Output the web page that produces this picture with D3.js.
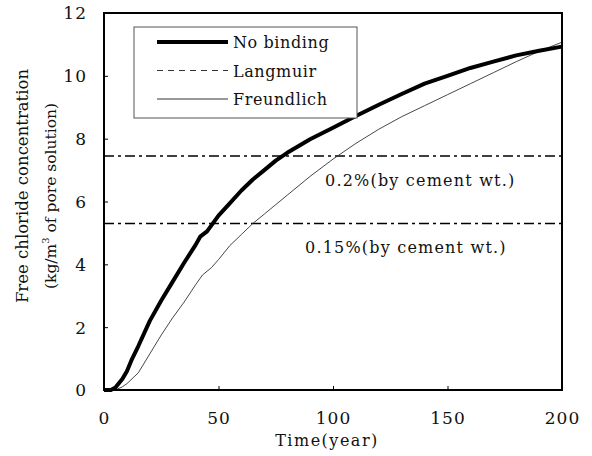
<!DOCTYPE html>
<html>
<head>
<meta charset="utf-8">
<script src="https://cdn.jsdelivr.net/npm/d3@7"></script>
<style>
  body { margin: 0; background: #fff; }
</style>
</head>
<body>
<svg id="chart" width="592" height="456"></svg>
<script>
// values
const years = [0, 3, 5, 8, 10, 12, 15, 20, 25, 30, 35, 40, 42, 45, 50, 55, 60, 65, 70, 75, 80,
               90, 100, 110, 120, 130, 140, 150, 160, 170, 180, 190, 200];
const noBinding = [0, 0, 0.08, 0.35, 0.6, 0.95, 1.4, 2.2, 2.85, 3.45, 4.05, 4.62, 4.88, 5.05, 5.55,
                   5.95, 6.35, 6.7, 7.0, 7.3, 7.55, 7.98, 8.35, 8.72, 9.08, 9.42, 9.75, 10.0,
                   10.25, 10.45, 10.65, 10.8, 10.93];
const freundlichYears = [0, 5, 8, 10, 15, 20, 25, 30, 35, 40, 43, 47, 50, 55, 60, 65, 70, 80, 90,
                         100, 110, 120, 130, 140, 150, 160, 170, 180, 190, 200];
const freundlich = [0, 0, 0.1, 0.2, 0.55, 1.15, 1.75, 2.3, 2.8, 3.35, 3.66, 3.9, 4.15, 4.6, 4.95,
                    5.3, 5.6, 6.2, 6.8, 7.35, 7.85, 8.3, 8.7, 9.05, 9.4, 9.75, 10.1, 10.45, 10.78, 11.07];
const thresholds = [7.45, 5.3];
const thresholdLabels = ["0.2%(by cement wt.)", "0.15%(by cement wt.)"];
const xTicks = [0, 50, 100, 150, 200];
const yTicks = [0, 2, 4, 6, 8, 10, 12];
const legendNames = ["No binding", "Langmuir", "Freundlich"];

const FONT = '"DejaVu Serif", serif';
const margins = { left: 104, top: 13, right: 30, bottom: 66 };
const width = 592, height = 456;

const svg = d3.select("#chart");

const scaleX = d3.scaleLinear()
    .domain([0, 200])
    .range([margins.left, width - margins.right]);

const scaleY = d3.scaleLinear()
    .domain([0, 12])
    .range([height - margins.bottom, margins.top]);

// axes, ticks point inward
const xAxis = d3.axisBottom(scaleX).tickValues(xTicks).tickSizeInner(-4).tickSizeOuter(0).tickPadding(22);
const yAxis = d3.axisLeft(scaleY).tickValues(yTicks).tickSizeInner(-4).tickSizeOuter(0).tickPadding(17);

const gx = svg.append("g")
    .attr("transform", `translate(0, ${scaleY(0)})`)
    .call(xAxis);
const gy = svg.append("g")
    .attr("transform", `translate(${scaleX(0)}, 0)`)
    .call(yAxis);

[gx, gy].forEach(g => {
    g.attr("font-family", null).attr("font-size", null);
    g.select(".domain").remove();
    g.selectAll("line").attr("stroke", "#000").attr("stroke-width", 1);
    g.selectAll("text")
        .attr("fill", "#111")
        .style("font-family", FONT)
        .style("font-size", "17px")
        .style("letter-spacing", "1px");
});
gy.selectAll("text").attr("dy", "0.35em");

// threshold lines
svg.selectAll("line.threshold")
    .data(thresholds)
    .enter()
    .append("line")
    .attr("class", "threshold")
    .attr("x1", scaleX(0))
    .attr("x2", scaleX(200))
    .attr("y1", d => scaleY(d))
    .attr("y2", d => scaleY(d))
    .attr("stroke", "#000")
    .attr("stroke-width", 1.6)
    .attr("stroke-dasharray", "10,4,3,4");

svg.selectAll("text.threshold")
    .data(thresholdLabels)
    .enter()
    .append("text")
    .attr("class", "threshold")
    .attr("x", (d, i) => i === 0 ? 325 : 305)
    .attr("y", (d, i) => scaleY(thresholds[i]) + 30)
    .attr("fill", "#111")
    .style("font-family", FONT)
    .style("font-size", "16px")
    .style("letter-spacing", "1.2px")
    .text(d => d);

// curves
const line = d3.line()
    .x(d => scaleX(d[0]))
    .y(d => scaleY(d[1]));

svg.append("path")
    .datum(freundlichYears.map((t, i) => [t, freundlich[i]]))
    .attr("fill", "none")
    .attr("stroke", "#333")
    .attr("stroke-width", 0.9)
    .attr("d", line);

svg.append("path")
    .datum(years.map((t, i) => [t, noBinding[i]]))
    .attr("fill", "none")
    .attr("stroke", "#000")
    .attr("stroke-width", 4)
    .attr("stroke-linejoin", "round")
    .attr("d", line);

// frame
svg.append("rect")
    .attr("x", scaleX(0))
    .attr("y", scaleY(12))
    .attr("width", scaleX(200) - scaleX(0))
    .attr("height", scaleY(0) - scaleY(12))
    .attr("fill", "none")
    .attr("stroke", "#000")
    .attr("stroke-width", 2);

// legend
const legend = svg.append("g").attr("transform", "translate(134, 27)");
legend.append("rect")
    .attr("width", 223)
    .attr("height", 91)
    .attr("fill", "#fff")
    .attr("stroke", "#555")
    .attr("stroke-width", 1);

const legendStyles = [
    { w: 4, dash: null, color: "#000" },
    { w: 1, dash: "6,5", color: "#333" },
    { w: 1, dash: null, color: "#333" }
];

legendNames.forEach((name, i) => {
    const y = 15 + i * 28.5;
    legend.append("line")
        .attr("x1", 23).attr("x2", 94)
        .attr("y1", y).attr("y2", y)
        .attr("stroke", legendStyles[i].color)
        .attr("stroke-width", legendStyles[i].w)
        .attr("stroke-dasharray", legendStyles[i].dash);
    legend.append("text")
        .attr("x", 99)
        .attr("y", y + 6)
        .attr("fill", "#111")
        .style("font-family", FONT)
        .style("font-size", "16px")
        .style("letter-spacing", "0.6px")
        .text(name);
});

// axis titles
svg.append("text")
    .attr("x", 327)
    .attr("y", 446)
    .attr("text-anchor", "middle")
    .attr("fill", "#111")
    .style("font-family", FONT)
    .style("font-size", "16px")
    .style("letter-spacing", "1.5px")
    .text("Time(year)");

svg.append("text")
    .attr("transform", "translate(28, 186) rotate(-90)")
    .attr("text-anchor", "middle")
    .attr("fill", "#111")
    .style("font-family", FONT)
    .style("font-size", "16.5px")
    .text("Free chloride concentration");

const t2 = svg.append("text")
    .attr("transform", "translate(56, 196) rotate(-90)")
    .attr("text-anchor", "middle")
    .attr("fill", "#111")
    .style("font-family", FONT)
    .style("font-size", "15.5px");
t2.append("tspan").text("(kg/m");
t2.append("tspan").attr("dy", -7).style("font-size", "10px").text("3");
t2.append("tspan").attr("dy", 7).text(" of pore solution)");
</script>
</body>
</html>
